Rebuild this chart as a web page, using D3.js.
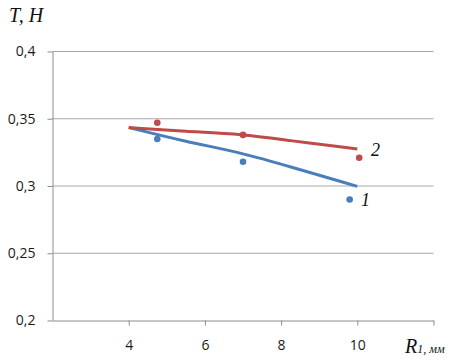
<!DOCTYPE html>
<html>
<head>
<meta charset="utf-8">
<script src="https://cdn.jsdelivr.net/npm/d3@7"></script>
<style>
  body { margin: 0; background: #fff; }
  svg { display: block; }
  .tick text { font-family: "Open Sans", "Liberation Sans", sans-serif; font-size: 14px; fill: #1a1a1a; }
  .lbl { font-family: "Liberation Serif", "DejaVu Serif", serif; font-style: italic; fill: #111; }
</style>
</head>
<body>
<svg width="464" height="361"></svg>
<script>
// measured points (markers)
const xPts1 = [4.75, 7.0, 9.8]
const yPts1 = [0.335, 0.318, 0.290]
const xPts2 = [4.75, 7.0, 10.05]
const yPts2 = [0.347, 0.338, 0.321]

// trend curves
const xCurve = [4, 5.5, 7, 8.2, 10]
const yCurve1 = [0.3435, 0.3330, 0.3245, 0.3146, 0.2997]
const yCurve2 = [0.3435, 0.3405, 0.3386, 0.3338, 0.3275]

const xTicks = [4, 6, 8, 10]
const yTicks = [0.2, 0.25, 0.3, 0.35, 0.4]
const yTickLabels = ["0,2", "0,25", "0,3", "0,35", "0,4"]

const blue = "#4a7ebb"
const red = "#be4b48"

const svg = d3.select("svg")

const scaleX = d3.scaleLinear()
    .domain([2, 12])
    .range([52.5, 433.5])
const scaleY = d3.scaleLinear()
    .domain([0.2, 0.4])
    .range([320.5, 51.5])

// horizontal grid
svg.append("g")
    .selectAll("line")
    .data(yTicks.slice(1))
    .enter()
    .append("line")
    .attr("x1", scaleX(2))
    .attr("x2", scaleX(12))
    .attr("y1", d => scaleY(d))
    .attr("y2", d => scaleY(d))
    .attr("stroke", "#a6a6a6")
    .attr("stroke-width", 1)

const axisY = d3.axisLeft(scaleY)
    .tickValues(yTicks)
    .tickFormat((d, i) => yTickLabels[i])
    .tickSizeInner(5)
    .tickSizeOuter(0)
    .tickPadding(12)
const axisYGroup = svg.append("g")
    .attr("transform", `translate(${scaleX(2)}, 0)`)
    .call(axisY)

const axisX = d3.axisBottom(scaleX)
    .tickValues([4, 6, 8, 10, 12])
    .tickFormat(d => xTicks.includes(d) ? d : "")
    .tickSizeInner(5)
    .tickSizeOuter(0)
    .tickPadding(15)
const axisXGroup = svg.append("g")
    .attr("transform", `translate(0, ${scaleY(0.2)})`)
    .call(axisX)

svg.selectAll(".domain, .tick line").attr("stroke", "#8c8c8c")

// curves
const line = d3.line()
    .x(d => scaleX(d[0]))
    .y(d => scaleY(d[1]))
    .curve(d3.curveBasis)

const curves = [
    { ys: yCurve1, color: blue },
    { ys: yCurve2, color: red }
]
svg.selectAll("path.curve")
    .data(curves)
    .enter()
    .append("path")
    .attr("class", "curve")
    .attr("fill", "none")
    .attr("stroke", d => d.color)
    .attr("stroke-width", 3)
    .attr("d", d => line(xCurve.map((x, i) => [x, d.ys[i]])))

// markers
const points = [
    ...xPts1.map((x, i) => ({ x: x, y: yPts1[i], c: blue })),
    ...xPts2.map((x, i) => ({ x: x, y: yPts2[i], c: red }))
]
svg.selectAll("circle")
    .data(points)
    .enter()
    .append("circle")
    .attr("cx", d => scaleX(d.x))
    .attr("cy", d => scaleY(d.y))
    .attr("r", 3.3)
    .attr("fill", d => d.c)

// labels
svg.append("text").attr("class", "lbl")
    .attr("x", 9).attr("y", 22)
    .attr("font-size", 20)
    .text("T, H")

svg.append("text").attr("class", "lbl")
    .attr("x", 371).attr("y", 156)
    .attr("font-size", 18)
    .text("2")

svg.append("text").attr("class", "lbl")
    .attr("x", 361).attr("y", 206)
    .attr("font-size", 18)
    .text("1")

const rLabel = svg.append("text").attr("class", "lbl")
    .attr("x", 405).attr("y", 353)
rLabel.append("tspan").attr("font-size", 20).text("R")
rLabel.append("tspan").attr("font-size", 12).text("1, мм")
</script>
</body>
</html>
